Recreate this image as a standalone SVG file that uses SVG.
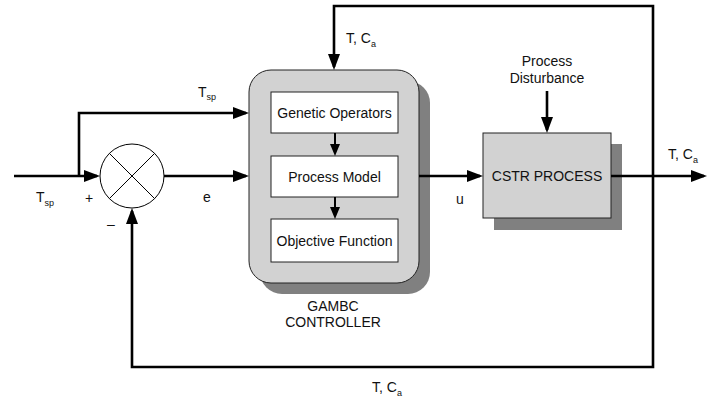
<svg xmlns="http://www.w3.org/2000/svg" width="707" height="401" viewBox="0 0 707 401">
  <style>
    text { font-family: "Liberation Sans", Arial, sans-serif; font-size: 14px; fill: #111; }
    .sub { font-size: 9px; }
    .mid { text-anchor: middle; }
    .wire { fill: none; stroke: #000; stroke-width: 2.6; stroke-linejoin: miter; }
    .thin { fill: none; stroke: #000; stroke-width: 2; }
    .box { fill: #fff; stroke: #222; stroke-width: 1; }
    .panel { fill: #d2d2d2; stroke: #222; stroke-width: 1; }
    .shadow { fill: #808080; }
  </style>
  <defs>
    <marker id="head" markerUnits="userSpaceOnUse" markerWidth="16" markerHeight="12" refX="13" refY="6" orient="auto">
      <path d="M0,0 L16,6 L0,12 Z" fill="#000"/>
    </marker>
    <marker id="headSmall" markerUnits="userSpaceOnUse" markerWidth="12" markerHeight="10" refX="9" refY="5" orient="auto">
      <path d="M0,0 L12,5 L0,10 Z" fill="#000"/>
    </marker>
  </defs>

  <!-- controller block -->
  <g id="gambc">
    <rect class="shadow" x="260" y="81" width="170" height="213" rx="22"/>
    <rect class="panel" x="249" y="70" width="170" height="213" rx="22"/>
    <text class="mid" x="333" y="311">GAMBC</text>
    <text class="mid" x="333" y="327">CONTROLLER</text>
  </g>
  <g id="genetic-operators">
    <rect class="box" x="271" y="92" width="127" height="41"/>
    <text class="mid" x="334.5" y="117.5">Genetic Operators</text>
  </g>
  <g id="process-model">
    <rect class="box" x="271" y="156" width="127" height="41"/>
    <text class="mid" x="334.5" y="181.5">Process Model</text>
  </g>
  <g id="objective-function">
    <rect class="box" x="271" y="219" width="127" height="43"/>
    <text class="mid" x="334.5" y="245.5">Objective Function</text>
  </g>

  <!-- plant -->
  <g id="cstr">
    <rect class="shadow" x="494" y="144" width="128" height="86"/>
    <rect class="panel" x="483" y="133" width="128" height="85"/>
    <text class="mid" x="547" y="181">CSTR PROCESS</text>
  </g>

  <!-- summing junction -->
  <g id="summer">
    <circle cx="132" cy="176" r="32" fill="#fff" stroke="#000" stroke-width="1"/>
    <path d="M109.4,153.4 L154.6,198.6 M154.6,153.4 L109.4,198.6" stroke="#000" stroke-width="1"/>
  </g>

  <g id="connectors">
    <path class="wire" d="M14,176 L97,176" marker-end="url(#head)"/>
    <path class="wire" d="M79,176 L79,113 L246,113" marker-end="url(#head)"/>
    <path class="wire" d="M164,176 L246,176" marker-end="url(#head)"/>
    <path class="wire" d="M419,176 L480,176" marker-end="url(#head)"/>
    <path class="wire" d="M611,176 L704,176" marker-end="url(#head)"/>
    <path class="wire" d="M547,91 L547,130" marker-end="url(#head)"/>
    <path class="wire" d="M653,176 L653,367 L132,367 L132,211" marker-end="url(#head)"/>
    <path class="wire" d="M653,176 L653,6 L334,6 L334,67" marker-end="url(#head)"/>
    <path class="thin" d="M335,133 L335,153" marker-end="url(#headSmall)"/>
    <path class="thin" d="M335,197 L335,216" marker-end="url(#headSmall)"/>
  </g>

  <g id="labels">
    <text x="198" y="97">T<tspan class="sub" dy="3">sp</tspan></text>
    <text x="36" y="202">T<tspan class="sub" dy="4">sp</tspan></text>
    <text class="mid" x="89" y="203">+</text>
    <text class="mid" x="111" y="229">–</text>
    <text class="mid" x="207" y="202">e</text>
    <text class="mid" x="460" y="204">u</text>
    <text class="mid" x="547" y="66">Process</text>
    <text class="mid" x="547" y="83">Disturbance</text>
    <text x="346" y="43">T, C<tspan class="sub" dy="4">a</tspan></text>
    <text x="668" y="159">T, C<tspan class="sub" dy="4">a</tspan></text>
    <text x="372" y="392">T, C<tspan class="sub" dy="4">a</tspan></text>
  </g>
</svg>
